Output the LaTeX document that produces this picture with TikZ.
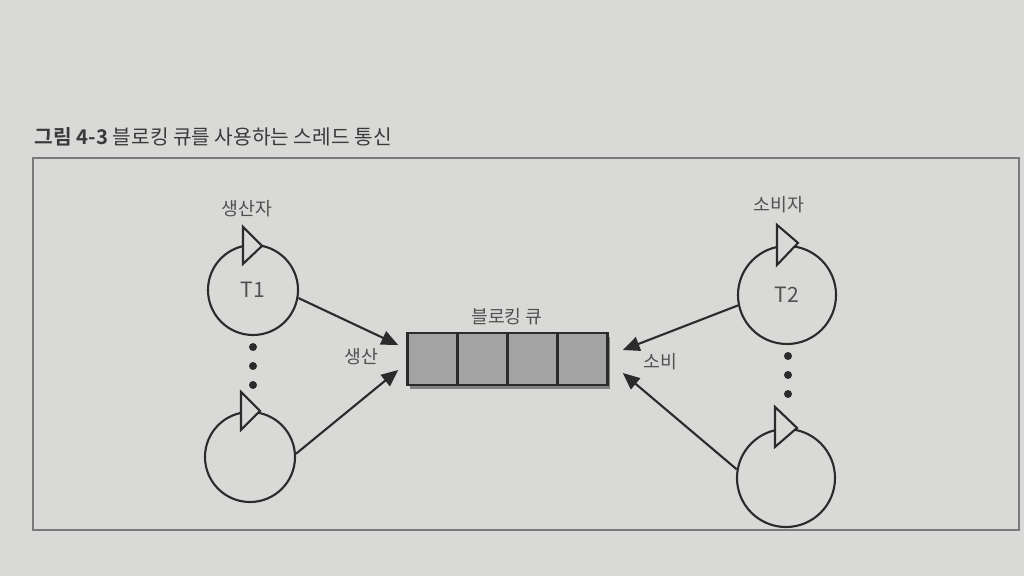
\documentclass[tikz,border=0pt]{standalone}
\usepackage{fontspec}
\setmainfont{Noto Sans CJK KR}[BoldFont={Noto Sans CJK KR Bold}]
\usetikzlibrary{arrows.meta,shadows}
\definecolor{pagegray}{HTML}{D9D9D7}
\definecolor{inkgray}{HTML}{2B2B2B}
\definecolor{textgray}{HTML}{505050}
\definecolor{cellgray}{HTML}{A3A3A3}
\definecolor{titlegray}{HTML}{3A3A3A}
\definecolor{framegray}{HTML}{7A7A7A}

\begin{document}
\begin{tikzpicture}[x=0.025cm,y=-0.025cm]
\tikzstyle{thread}=[circle,line width=1.5pt,draw=inkgray,inner sep=0pt,minimum size=2.25cm,text=textgray,font=\fontsize{15pt}{17pt}\selectfont]
\tikzstyle{tri}=[line width=1.5pt,draw=inkgray,fill=pagegray,line join=miter]
\tikzstyle{cell}=[rectangle,draw=inkgray,line width=1.8pt,fill=cellgray,minimum width=1.25cm,minimum height=1.3cm,inner sep=0pt]
\tikzstyle{txt}=[text=textgray,font=\fontsize{13pt}{15pt}\selectfont]
\tikzstyle{dot}=[circle,fill=inkgray,inner sep=0pt,minimum size=0.2cm]
\tikzstyle{push}=[line width=1.5pt,draw=inkgray,-{Triangle[length=0.42cm,width=0.36cm]}]

\fill[pagegray] (0,0) rectangle (1024,576);
\useasboundingbox (0,0) rectangle (1024,576);

    % Frame and title
    \draw[framegray,line width=0.8pt] (33,158) rectangle (1019,530);
    \node[anchor=west,text=titlegray,font=\fontsize{14.4pt}{16pt}\selectfont] (title) at (30,137) {\textbf{그림 4-3} 블로킹 큐를 사용하는 스레드 통신};

    % Threads
    \node [thread](thr_p1) at (253,290) {T1};
    \node [thread](thr_p2) at (250,457) {};
    \node [thread,minimum size=2.45cm](thr_c1) at (787,295) {T2};
    \node [thread,minimum size=2.45cm](thr_c2) at (786,478) {};

    \draw[tri] (thr_p1.north) ++(-10,-17) -- ++(0,37) -- ++(19,-18) -- cycle;
    \draw[tri] (thr_p2.north) ++(-9,-19) -- ++(0,38) -- ++(19,-19) -- cycle;
    \draw[tri] (thr_c1.north) ++(-10,-20) -- ++(0,40) -- ++(21,-22) -- cycle;
    \draw[tri] (thr_c2.north) ++(-11,-21) -- ++(0,40) -- ++(22,-19) -- cycle;

    % more threads
    \node [dot](dot_p1) at (253,347) {};
    \node [dot](dot_p2) at (253,366) {};
    \node [dot](dot_p3) at (253,385) {};
    \node [dot](dot_c1) at (788,356) {};
    \node [dot](dot_c2) at (788,375) {};
    \node [dot](dot_c3) at (788,394) {};

    % Labels
    \node [txt](lbl_prod) at (247,209) {생산자};
    \node [txt](lbl_cons) at (779,205) {소비자};
    \node [txt](lbl_queue) at (507,317) {블로킹 큐};
    \node [txt](lbl_put) at (361,357) {생산};
    \node [txt](lbl_take) at (660,362) {소비};

    % Queue
    \node [rectangle,minimum width=5cm,minimum height=1.3cm,fill=cellgray,drop shadow={shadow xshift=2pt,shadow yshift=-3pt,fill=black,opacity=.4}](queue) at (507.5,359) {};
    \node [cell](q1) at (432.5,359) {};
    \node [cell,right of=q1,node distance=1.25cm](q2) {};
    \node [cell,right of=q2,node distance=1.25cm](q3) {};
    \node [cell,right of=q3,node distance=1.25cm](q4) {};

    % put / take
    \draw[push] (thr_p1.-10) -- ([shift={(-9,-14)}]queue.west);
    \draw[push] (thr_p2.4) -- ([shift={(-9,11)}]queue.west);
    \draw[push] (thr_c1.192) -- ([shift={(15,-9)}]queue.east);
    \draw[push] (thr_c2.170) -- ([shift={(15,14)}]queue.east);

\end{tikzpicture}
\end{document}
